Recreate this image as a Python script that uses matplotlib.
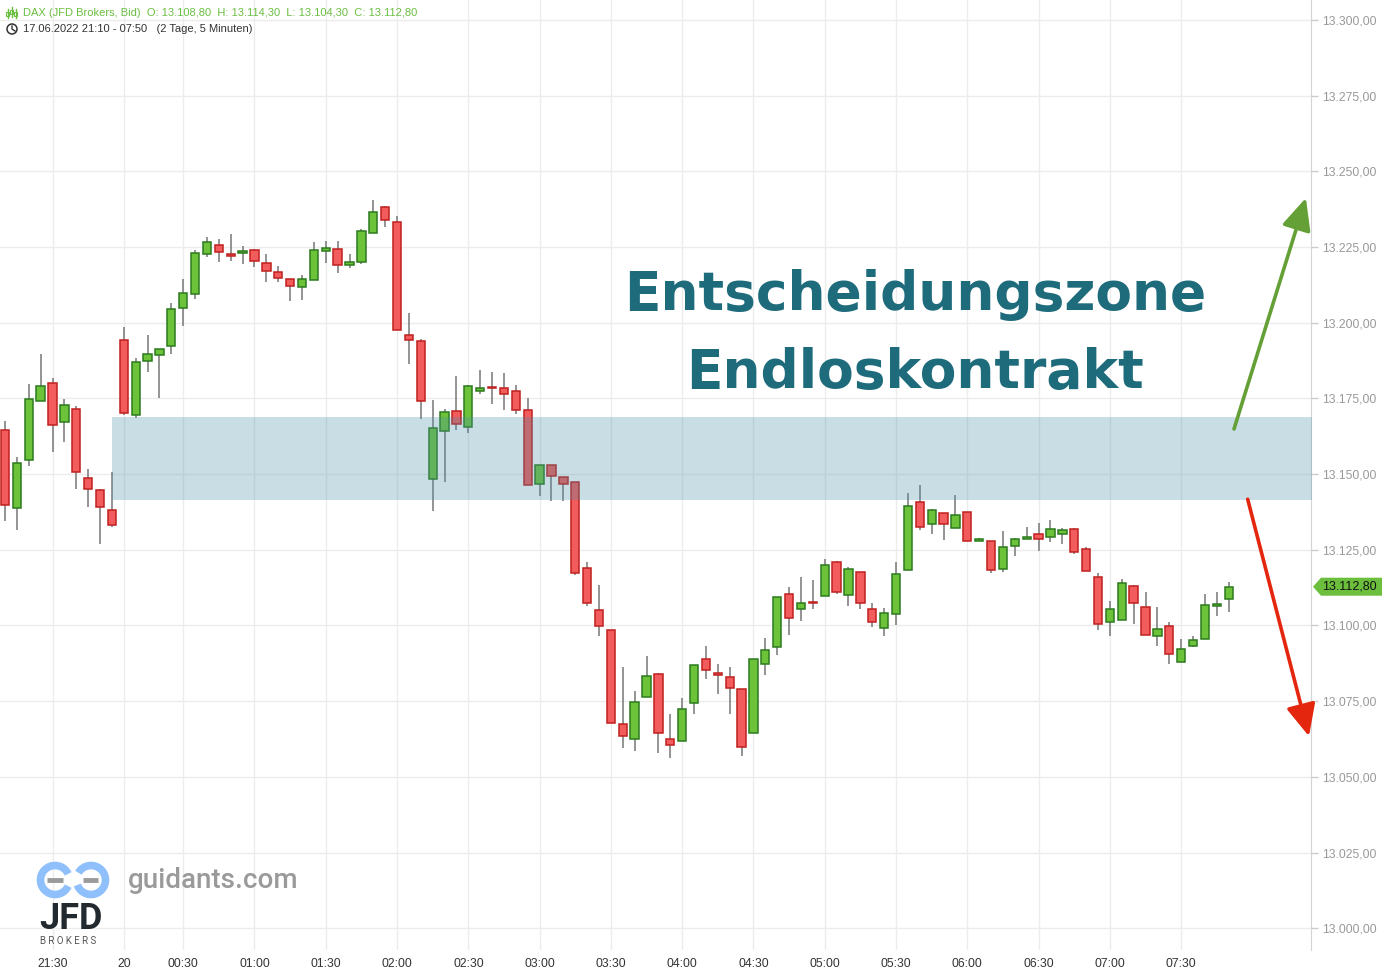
import numpy as np
import matplotlib
matplotlib.use("Agg")
import matplotlib.pyplot as plt
from matplotlib.patches import Polygon, Circle, Arc

# DAX 5-minute candles, 17.06.2022 21:10 - 20.06.2022 07:50
opens = [13164.5, 13138.8, 13154.6, 13174.2, 13180.1, 13167.2, 13171.5, 13148.7, 13144.7, 13138.1,
         13194.3, 13169.5, 13187.3, 13189.3, 13192.3, 13204.8, 13209.5, 13222.7, 13225.7, 13222.7,
         13223.0, 13224.0, 13219.7, 13216.7, 13214.4, 13211.8, 13214.1, 13223.7, 13224.3, 13219.0,
         13220.0, 13229.6, 13238.2, 13233.3, 13195.9, 13194.0, 13148.3, 13164.2, 13170.8, 13165.5,
         13177.6, 13178.6, 13178.6, 13177.3, 13171.1, 13146.7, 13153.0, 13149.0, 13147.4, 13119.0,
         13105.1, 13098.5, 13067.4, 13062.4, 13076.3, 13083.9, 13062.4, 13061.8, 13074.4, 13088.9,
         13084.3, 13082.9, 13079.0, 13064.4, 13087.2, 13092.8, 13110.4, 13105.4, 13107.7, 13109.7,
         13121.0, 13110.0, 13117.6, 13105.4, 13099.2, 13103.8, 13118.3, 13140.8, 13133.5, 13137.1,
         13132.2, 13137.4, 13127.9, 13127.9, 13118.6, 13126.2, 13128.5, 13130.2, 13129.2, 13130.2,
         13131.8, 13125.2, 13116.0, 13101.1, 13101.8, 13113.0, 13106.1, 13096.5, 13099.8, 13087.9,
         13093.2, 13095.5, 13106.4, 13108.8]
highs = [13167.5, 13155.6, 13179.8, 13189.6, 13181.7, 13174.8, 13172.5, 13151.7, 13145.1, 13150.7,
         13198.6, 13188.3, 13195.9, 13191.3, 13206.5, 13214.4, 13224.0, 13228.3, 13227.7, 13229.3,
         13225.3, 13224.3, 13222.7, 13218.7, 13214.4, 13215.8, 13226.7, 13227.0, 13227.0, 13222.7,
         13231.0, 13240.5, 13238.5, 13235.3, 13203.2, 13194.6, 13174.5, 13171.5, 13182.4, 13179.4,
         13184.4, 13183.8, 13183.5, 13179.4, 13175.1, 13153.0, 13153.0, 13149.0, 13147.4, 13121.0,
         13113.4, 13098.5, 13086.2, 13078.3, 13089.9, 13084.3, 13070.7, 13076.0, 13086.9, 13093.2,
         13087.2, 13086.2, 13079.0, 13088.9, 13095.8, 13109.3, 13112.7, 13116.0, 13115.0, 13122.0,
         13121.3, 13119.3, 13117.6, 13107.4, 13105.8, 13121.0, 13143.8, 13146.4, 13138.5, 13137.1,
         13143.1, 13137.4, 13128.9, 13127.9, 13131.2, 13128.9, 13132.5, 13133.8, 13134.8, 13132.2,
         13132.2, 13125.9, 13117.3, 13108.0, 13115.3, 13113.4, 13111.0, 13106.1, 13101.1, 13095.5,
         13096.5, 13110.4, 13111.0, 13114.3]
lows = [13134.5, 13131.5, 13152.6, 13174.0, 13157.3, 13160.6, 13145.1, 13139.1, 13126.9, 13132.5,
        13169.5, 13168.5, 13183.7, 13175.1, 13189.6, 13198.9, 13207.8, 13221.7, 13220.1, 13220.4,
        13219.4, 13218.4, 13213.4, 13213.4, 13207.2, 13207.5, 13214.1, 13219.7, 13216.4, 13218.1,
        13219.4, 13229.6, 13231.6, 13197.6, 13186.3, 13168.2, 13137.8, 13147.4, 13164.5, 13163.5,
        13176.6, 13173.1, 13171.1, 13169.8, 13146.4, 13142.7, 13141.1, 13141.1, 13116.8, 13106.4,
        13096.5, 13067.8, 13059.5, 13058.5, 13076.3, 13057.8, 13056.2, 13061.8, 13070.7, 13082.3,
        13077.3, 13070.7, 13056.8, 13064.4, 13083.6, 13090.2, 13096.8, 13101.4, 13105.4, 13109.7,
        13110.4, 13106.4, 13105.4, 13099.5, 13096.5, 13100.1, 13118.3, 13131.5, 13130.2, 13128.2,
        13132.2, 13127.9, 13127.9, 13117.3, 13117.6, 13122.9, 13128.5, 13124.6, 13127.5, 13126.9,
        13123.6, 13118.0, 13098.5, 13096.5, 13101.8, 13100.5, 13096.8, 13093.2, 13087.2, 13087.9,
        13092.8, 13095.5, 13103.1, 13104.3]
closes = [13139.8, 13153.6, 13174.8, 13179.1, 13166.2, 13172.8, 13150.7, 13145.1, 13139.1, 13133.2,
          13170.2, 13187.0, 13189.6, 13191.3, 13204.5, 13209.8, 13223.0, 13226.7, 13223.3, 13222.0,
          13223.7, 13220.4, 13217.1, 13214.8, 13212.1, 13214.4, 13224.0, 13224.7, 13219.0, 13220.0,
          13230.3, 13236.6, 13233.9, 13197.6, 13194.3, 13174.2, 13165.2, 13170.5, 13166.5, 13179.1,
          13178.6, 13178.3, 13176.6, 13171.1, 13146.4, 13153.0, 13149.3, 13146.7, 13117.3, 13107.4,
          13099.8, 13067.8, 13063.5, 13074.7, 13083.3, 13064.4, 13060.4, 13072.4, 13086.9, 13085.3,
          13083.6, 13079.3, 13059.8, 13088.9, 13091.9, 13109.3, 13102.4, 13107.4, 13107.4, 13120.0,
          13111.0, 13118.6, 13107.4, 13101.1, 13104.1, 13117.0, 13139.4, 13132.5, 13138.1, 13133.5,
          13136.5, 13127.9, 13128.2, 13118.3, 13125.9, 13128.5, 13129.2, 13128.5, 13131.8, 13131.5,
          13124.2, 13118.0, 13100.5, 13105.4, 13114.0, 13107.4, 13096.8, 13098.8, 13090.6, 13092.2,
          13095.2, 13106.7, 13107.1, 13112.8]

tick_idx = [4, 10, 15, 21, 27, 33, 39, 45, 51, 57, 63, 69, 75, 81, 87, 93, 99]
tick_labels = ["21:30", "20", "00:30", "01:00", "01:30", "02:00", "02:30", "03:00", "03:30",
               "04:00", "04:30", "05:00", "05:30", "06:00", "06:30", "07:00", "07:30"]
price_ticks = [13000, 13025, 13050, 13075, 13100, 13125, 13150, 13175, 13200, 13225, 13250, 13275, 13300]

zone_start = 9
zone_low, zone_high = 13141.4, 13168.8
up_arrow = [(103.45, 13164.9), (109.5, 13241.2)]
down_arrow = [(104.6, 13141.7), (109.76, 13063.4)]

W, H = 1382, 973
fig = plt.figure(figsize=(W / 100, H / 100), dpi=100)
ax = fig.add_axes([0, 23 / H, 1311 / W, 950 / H])

x = np.arange(len(opens))
o = np.array(opens); c = np.array(closes)
up = c >= o
face = np.where(up, "#6cc33a", "#f25c5c")
edge = np.where(up, "#2c7a1e", "#c0201f")

ax.vlines(x, lows, highs, color="#777777", lw=1.1, zorder=2)
bottoms = np.minimum(o, c)
heights = np.maximum(np.abs(c - o), 0.5)
ax.bar(x, heights, bottom=bottoms, width=0.7, color=face, edgecolor=edge, linewidth=1.1, zorder=3)

# decision zone
ax.fill_between([zone_start, 110], zone_low, zone_high, color="#4b91a8", alpha=0.3, lw=0, zorder=4)

# arrows
for (start, tip), col in [(up_arrow, "#65a037"), (down_arrow, "#e3260d")]:
    ax.annotate("", xy=tip, xytext=start,
                arrowprops=dict(arrowstyle="-|>,head_length=1.3,head_width=0.6", color=col,
                                lw=2.6, shrinkA=0, shrinkB=0, mutation_scale=15),
                annotation_clip=False, zorder=6)

ax.set_xlim(-0.42, 109.93)
ax.set_ylim(12992.8, 13306.6)
ax.set_xticks(tick_idx)
ax.set_xticklabels(tick_labels)
ax.set_yticks(price_ticks)
ax.set_yticklabels([f"{v:,.2f}".replace(",", "X").replace(".", ",").replace("X", ".") for v in price_ticks])
ax.yaxis.tick_right()
ax.tick_params(axis="y", length=5, width=1, color="#cccccc", pad=3, labelsize=8.7, labelcolor="#999999")
ax.tick_params(axis="x", length=0, pad=6, labelsize=8.7, labelcolor="#333333")
for lab in ax.get_xticklabels() + ax.get_yticklabels():
    lab.set_fontfamily("Liberation Sans")
ax.grid(True, color="#ececec", lw=1)
ax.set_axisbelow(True)
for s in ["top", "left", "bottom"]:
    ax.spines[s].set_visible(False)
ax.spines["right"].set_color("#d4d4d4")

# overlay in pixel coordinates for annotations
ov = fig.add_axes([0, 0, 1, 1], zorder=10)
ov.set_xlim(0, W); ov.set_ylim(H, 0)
ov.axis("off"); ov.patch.set_alpha(0)

fig.text(915 / W, 1 - 310 / H, "Entscheidungszone", ha="center", va="baseline",
         fontsize=38.5, fontweight="bold", color="#1e6b7b", family="DejaVu Sans")
fig.text(915 / W, 1 - 388 / H, "Endloskontrakt", ha="center", va="baseline",
         fontsize=38.5, fontweight="bold", color="#1e6b7b", family="DejaVu Sans")

# header
green_txt = "#6abf40"
ov.text(23, 13, "DAX (JFD Brokers, Bid)  O: 13.108,80  H: 13.114,30  L: 13.104,30  C: 13.112,80",
        va="center", ha="left", fontsize=8, color=green_txt, family="Liberation Sans")
ov.text(23, 29, "17.06.2022 21:10 - 07:50   (2 Tage, 5 Minuten)",
        va="center", ha="left", fontsize=8, color="#333333", family="Liberation Sans")
for xi, (a, b) in zip([8, 12, 16], [(9, 18), (7, 17), (9, 18)]):
    ov.plot([xi, xi], [a, b], color=green_txt, lw=1)
    ov.add_patch(plt.Rectangle((xi - 1.5, a + 3), 3, 4, facecolor="white", edgecolor=green_txt, lw=0.8))
ov.add_patch(Circle((12, 29), 5, fill=False, edgecolor="#333333", lw=1.1))
ov.plot([12, 12, 15], [26, 29, 31], color="#333333", lw=1)

# last price tag
y_last = H - ax.transData.transform((0, closes[-1]))[1]
ov.add_patch(Polygon([(1313, y_last), (1321, y_last - 9), (1382, y_last - 9), (1382, y_last + 9),
                      (1321, y_last + 9)], closed=True, facecolor="#6cbf3c", edgecolor="none"))
ov.text(1322, y_last, "13.112,80", va="center", ha="left", fontsize=9, color="#111111",
        family="Liberation Sans")

# logo
blue = "#8fc0fb"
ov.add_patch(Arc((55, 880), 29, 29, theta1=25, theta2=335, color=blue, lw=5.5))
ov.add_patch(Arc((91, 880), 29, 29, theta1=-150, theta2=160, color=blue, lw=5.5))
ov.plot([47, 63], [880, 880], color="#9a9a9a", lw=3.5, solid_capstyle="butt")
ov.plot([83, 98], [880, 880], color="#9a9a9a", lw=3.5, solid_capstyle="butt")
ov.text(128, 881, "guidants.com", va="center", ha="left", fontsize=20, color="#9a9a9a",
        family="Roboto", fontweight="medium")
ov.text(39, 919, "JFD", va="center", ha="left", fontsize=26, color="#222a30",
        family="Roboto", fontweight="bold")
ov.text(40, 941, "B R O K E R S", va="center", ha="left", fontsize=7, color="#555555",
        family="Roboto")

fig.savefig("out.png", dpi=100)
